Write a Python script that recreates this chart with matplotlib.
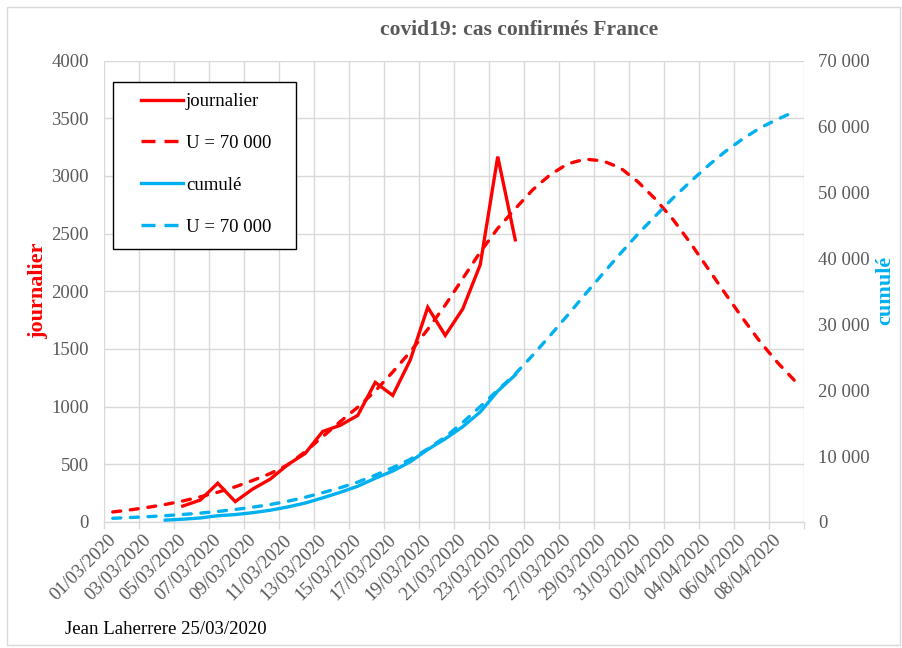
import matplotlib
matplotlib.use("Agg")
import matplotlib.pyplot as plt
from matplotlib.patches import Rectangle
from matplotlib.lines import Line2D
from matplotlib.transforms import ScaledTranslation
import numpy as np
import pandas as pd

plt.rcParams['font.family'] = ['Liberation Serif', 'DejaVu Serif']

# categories: one per day, 01/03/2020 -> 09/04/2020
dates = list(pd.date_range("2020-03-01", "2020-04-09").strftime("%d/%m/%Y"))

# observed data
journalier_start = 4   # 05/03/2020
journalier = [138, 190, 336, 177, 286, 372, 497, 595, 785, 838, 924, 1210, 1097,
              1404, 1861, 1617, 1847, 2230, 3167, 2446]
cumule_start = 3       # 04/03/2020
cumule = [285, 423, 613, 949, 1126, 1412, 1784, 2281, 2876, 3661, 4499, 5423, 6633,
          7730, 9134, 10995, 12612, 14459, 16689, 19856, 22302]

# model U = 70 000
modele_journalier = [87, 105, 127, 152, 182, 218, 258, 305, 360, 420,
                     495, 610, 740, 870, 995, 1135, 1300, 1475, 1670, 1880,
                     2110, 2340, 2545, 2715, 2880, 3010, 3105, 3145, 3130, 3070,
                     2950, 2800, 2625, 2420, 2200, 1980, 1765, 1560, 1380, 1220]
modele_cumule = [560, 680, 810, 960, 1140, 1350, 1600, 1900, 2250, 2650,
                 3150, 3750, 4450, 5200, 6050, 7100, 8250, 9500, 11100, 12900,
                 15100, 17500, 20000, 22450, 25300, 28300, 31400, 34550, 37650, 40700,
                 43650, 46400, 49100, 51600, 54000, 56200, 58100, 59800, 61100, 62300]

RED = "#FF0000"
BLUE = "#00B0F0"
GRID = "#D9D9D9"
TXT = "#595959"
FS = 13.5

W, H = 903, 648
fig = plt.figure(figsize=(W / 100, H / 100), dpi=100)
L, R, T, B = 104, 804, 60.5, 522
ax = fig.add_axes([L / W, 1 - B / H, (R - L) / W, (B - T) / H])

x = np.arange(len(dates))
lw = 2.4
dash = (2.4, 2.9)

ax.plot(x[journalier_start:journalier_start + len(journalier)], journalier,
        color=RED, lw=lw, solid_joinstyle='miter', zorder=3)
ax.plot(x, modele_journalier, color=RED, lw=lw, dashes=dash,
        dash_capstyle='round', zorder=3)

ax.set_xlim(-0.5, len(dates) - 0.5)
ax.set_ylim(0, 4000)
ax.set_yticks(np.arange(0, 4001, 500))
ax.set_xticks(x[::2])
ax.set_xticklabels(dates[::2], rotation=45, ha='right', rotation_mode='anchor')
ax.set_xticks(np.arange(-0.5, len(dates), 2), minor=True)
ax.tick_params(axis='x', which='major', length=0, pad=7, labelsize=FS, labelcolor=TXT)
ax.tick_params(axis='x', which='minor', length=5, color=GRID, width=1)
ax.tick_params(axis='y', length=0, pad=10.8, labelsize=FS, labelcolor=TXT)
shift = ScaledTranslation(-5 / 100, 0, fig.dpi_scale_trans)
for lbl in ax.get_xticklabels():
    lbl.set_transform(lbl.get_transform() + shift)
ax.grid(axis='y', color=GRID, lw=1)
ax.grid(axis='x', which='minor', color=GRID, lw=1)
for s in ['top', 'right', 'left']:
    ax.spines[s].set_visible(False)
ax.spines['bottom'].set_color(GRID)
ax.spines['bottom'].set_linewidth(1)
ax.set_axisbelow(True)

ax2 = ax.twinx()
ax2.plot(x[cumule_start:cumule_start + len(cumule)], cumule, color=BLUE, lw=lw, zorder=3)
ax2.plot(x, modele_cumule, color=BLUE, lw=lw, dashes=dash, dash_capstyle='round', zorder=3)
ax2.set_ylim(0, 70000)
ax2.set_yticks(np.arange(0, 70001, 10000))
ax2.set_yticklabels([f"{v:,}".replace(",", " ") for v in range(0, 70001, 10000)])
ax2.tick_params(axis='y', length=0, pad=10, labelsize=FS, labelcolor=TXT)
for s in ax2.spines.values():
    s.set_visible(False)

# axis titles
fig.text(38 / W, 1 - 291 / H, "journalier", color=RED, fontsize=16, fontweight='bold',
         rotation=90, ha='center', va='center')
fig.text(885 / W, 1 - 290 / H, "cumulé", color=BLUE, fontsize=16, fontweight='bold',
         rotation=90, ha='center', va='center')
fig.text(519 / W, 1 - 30 / H, "covid19: cas confirmés France", color=TXT, fontsize=15.5,
         fontweight='bold', ha='center', va='center')
fig.text(65 / W, 1 - 630 / H, "Jean Laherrere 25/03/2020", color='black', fontsize=FS,
         ha='left', va='center')

# legend with a hand-drawn frame
ldash = (4.2, 2.7)
handles = [Line2D([], [], color=RED, lw=lw),
           Line2D([], [], color=RED, lw=lw, dashes=ldash),
           Line2D([], [], color=BLUE, lw=lw),
           Line2D([], [], color=BLUE, lw=lw, dashes=ldash)]
labels = ["journalier", "U = 70 000", "cumulé", "U = 70 000"]
leg = fig.legend(handles, labels, loc='upper left', bbox_to_anchor=(141 / W, 1 - 93 / H),
                 frameon=False, fontsize=FS, handlelength=2.25, handletextpad=0.15,
                 labelspacing=1.32, borderpad=0, borderaxespad=0)
fig.add_artist(Rectangle((113 / W, 1 - 249 / H), (296 - 113) / W, (249 - 82) / H,
                         transform=fig.transFigure, fill=True, facecolor='white',
                         edgecolor='black', lw=1, zorder=4))
leg.set_zorder(5)

# chart area border
fig.add_artist(Rectangle((7 / W, 3 / H), (893) / W, (638) / H, transform=fig.transFigure,
                         fill=False, edgecolor=GRID, lw=1))

fig.savefig("out.png", dpi=100)
